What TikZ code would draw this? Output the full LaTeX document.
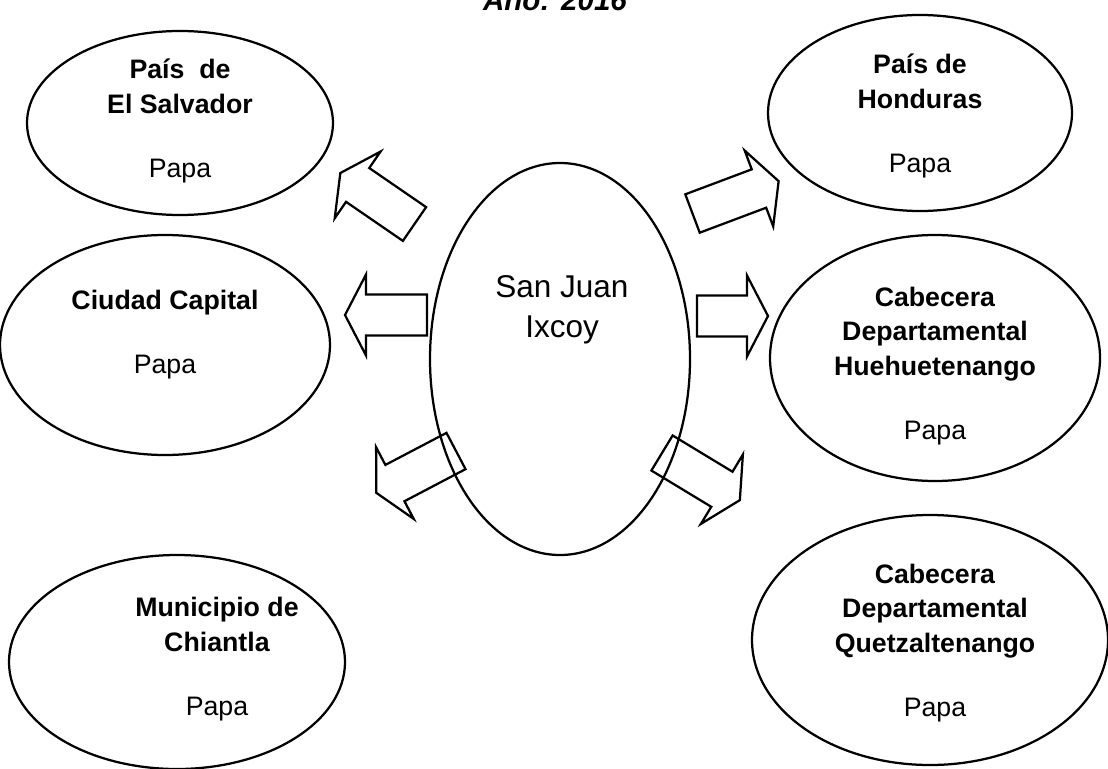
\documentclass[tikz,border=0pt]{standalone}
\usepackage{fontspec}
\setmainfont{Liberation Sans}
\usetikzlibrary{shapes.geometric}

\newcommand{\px}{0.025cm}

\begin{document}
\begin{tikzpicture}[x=\px, y=-\px,
				    place/.style={draw, ellipse, line width=1.6pt, inner sep=0pt},
				    lbl/.style={align=center, font=\fontsize{19}{24.8}\selectfont},
				    pics/fatarrow/.style={code={
				    	\draw[line width=1.6pt, line join=miter]
				    		(0,-20.5) -- ({#1-21},-20.5) -- ({#1-21},-40.5) -- (#1,0)
				    		-- ({#1-21},40.5) -- ({#1-21},20.5) -- (0,20.5) -- cycle;}}]
	\useasboundingbox (0,0) rectangle (1108,768);
	% title, cut by the page edge
	\node[anchor=base, font=\fontsize{21}{25}\selectfont\bfseries\itshape] (year) at (555,11) {Año: 2016};
	% places
	\node[place, minimum width=306*\px, minimum height=184*\px] (els) at (180,123) {};
	\node[place, minimum width=330*\px, minimum height=220*\px] (cap) at (165,345) {};
	\node[place, minimum width=336*\px, minimum height=214*\px] (chi) at (177,662) {};
	\node[place, minimum width=260*\px, minimum height=392*\px] (sji) at (560,359) {};
	\node[place, minimum width=304*\px, minimum height=196*\px] (hon) at (920,113) {};
	\node[place, minimum width=330*\px, minimum height=246*\px] (hue) at (935,358) {};
	\node[place, minimum width=356*\px, minimum height=250*\px] (que) at (930,640) {};
	% texts
	\node[lbl] (elsTxt) at (180,121) {\textbf{País\ \ de}\\ \textbf{El Salvador}\\[20.6pt] Papa};
	\node[lbl] (capTxt) at (165,335) {\textbf{Ciudad Capital}\\[20.6pt] Papa};
	\node[lbl] (chiTxt) at (217,659) {\textbf{Municipio de}\\ \textbf{Chiantla}\\[20.6pt] Papa};
	\node[align=center, font=\fontsize{22.4}{28.5}\selectfont] (sjiTxt) at (562,310) {San Juan\\ Ixcoy};
	\node[lbl] (honTxt) at (920,116) {\textbf{País de}\\ \textbf{Honduras}\\[20.6pt] Papa};
	\node[lbl] (hueTxt) at (935,366) {\textbf{Cabecera}\\ \textbf{Departamental}\\ \textbf{Huehuetenango}\\[20.6pt] Papa};
	\node[lbl] (queTxt) at (935,643) {\textbf{Cabecera}\\ \textbf{Departamental}\\ \textbf{Quetzaltenango}\\[20.6pt] Papa};
	% block arrows
	\pic[rotate=145.5] (toEls) at (414.5,224) {fatarrow=90};
	\pic[rotate=180]   (toCap) at (427,315)   {fatarrow=82};
	\pic[rotate=207.7] (toChi) at (456,451)   {fatarrow=90};
	\pic[rotate=20.6]  (toHon) at (692.5,213.5) {fatarrow=92};
	\pic               (toHue) at (697,316)   {fatarrow=71};
	\pic[rotate=-31.2] (toQue) at (662,453)   {fatarrow=91};
\end{tikzpicture}
\end{document}
